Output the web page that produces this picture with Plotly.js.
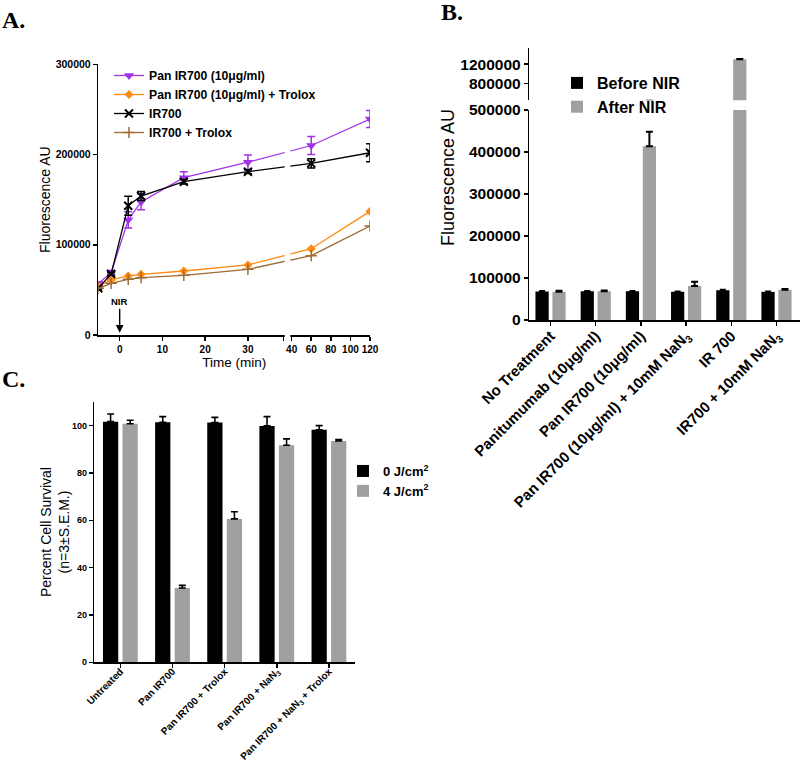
<!DOCTYPE html>
<html><head><meta charset="utf-8">
<script src="https://cdn.plot.ly/plotly-3.0.1.min.js"></script>
<style>html,body{margin:0;padding:0;background:#fff}</style>
</head><body><div id="chart" style="width:800px;height:761px"></div>
<script>
// ---------- Panel A data ----------
const timeMin = [-5, -2, 2, 5, 15, 30, 60, 120];
const panIR700 = [57000, 69000, 127500, 147500, 174300, 191500, 210000, 239300];
const panIR700Err = [2000, 2500, 9000, 8700, 6600, 8000, 10000, 9400];
const panIR700Trolox = [54300, 61000, 65400, 67200, 70900, 77600, 95600, 137000];
const ir700 = [51700, 67600, 143300, 154000, 169900, 181000, 190200, 202000];
const ir700Err = [1500, 1500, 10500, 5000, 2500, 2000, 5000, 10000];
const ir700Trolox = [51700, 57300, 61700, 63500, 66100, 72800, 87900, 120800];
const timeTicks = [0, 10, 20, 30, 40, 60, 80, 100, 120];
const aYTicks = [0, 100000, 200000, 300000];

// ---------- Panel B data ----------
const bCategories = ['No Treatment', 'Panitumumab (10μg/ml)', 'Pan IR700 (10μg/ml)',
  'Pan IR700 (10μg/ml) + 10mM NaN<sub>3</sub>', 'IR 700', 'IR700 + 10mM NaN<sub>3</sub>'];
const beforeNIR = [68000, 68500, 68500, 67000, 71000, 67000];
const beforeNIRErr = [800, 800, 800, 800, 1000, 800];
const afterNIR = [67500, 68500, 413500, 81000, 1300000, 72000];
const afterNIRErr = [2000, 2000, 35000, 10000, 8000, 2000];
const bLowerTicks = [0, 100000, 200000, 300000, 400000, 500000];
const bUpperTicks = [800000, 1200000];

// ---------- Panel C data ----------
const cCategories = ['Untreated', 'Pan IR700', 'Pan IR700 + Trolox',
  'Pan IR700 + NaN<sub>3</sub>', 'Pan IR700 + NaN<sub>3</sub> + Trolox'];
const dose0 = [101.7, 101.4, 101.3, 99.9, 98.3];
const dose0Err = [3.2, 2.4, 2.2, 3.9, 1.7];
const dose4 = [100.8, 31.4, 60.6, 91.7, 93.5];
const dose4Err = [1.5, 1.1, 3.0, 2.7, 0.6];
const cYTicks = [0, 20, 40, 60, 80, 100];

// ---------- helpers ----------
const W = 800, H = 761;
const px = v => v / W;            // pixel -> paper x
const py = v => 1 - v / H;        // pixel -> paper y
const FONT = "Arial, 'Liberation Sans', sans-serif";

// broken time axis: first segment in minutes, second compressed
const BREAK_LO = 38.3, BREAK_HI = 40, BREAK_GAP = 1.926, SEG2_SCALE = 0.2291;
const tAxis = t => (t <= BREAK_LO ? t : BREAK_LO + BREAK_GAP + (t - BREAK_HI) * SEG2_SCALE);
const aRange = [-5, tAxis(120)];
const aDom = [px(98.3), px(370)];
const uToPaper = u => aDom[0] + (u - aRange[0]) / (aRange[1] - aRange[0]) * (aDom[1] - aDom[0]);

const tu = timeMin.map(tAxis);
const PURPLE = '#A232E6', ORANGE = '#FF8A10', BROWN = '#9E6B34', GRAY = '#A0A0A2';

const traces = [
  {x: tu, y: panIR700, name: 'Pan IR700 (10μg/ml)', mode: 'lines+markers', xaxis: 'x', yaxis: 'y',
   line: {color: PURPLE, width: 1.3}, marker: {symbol: 'triangle-down', size: 9, color: PURPLE},
   error_y: {type: 'data', array: panIR700Err, color: PURPLE, thickness: 1.5, width: 4}, legend: 'legend'},
  {x: tu, y: panIR700Trolox, name: 'Pan IR700 (10μg/ml) + Trolox', mode: 'lines+markers', xaxis: 'x', yaxis: 'y',
   line: {color: ORANGE, width: 1.3}, marker: {symbol: 'diamond', size: 7, color: ORANGE}, legend: 'legend'},
  {x: tu, y: ir700, name: 'IR700', mode: 'lines+markers', xaxis: 'x', yaxis: 'y',
   line: {color: '#000', width: 1.3}, marker: {symbol: 'x-thin-open', size: 8, color: '#000', line: {width: 2, color: '#000'}},
   error_y: {type: 'data', array: ir700Err, color: '#000', thickness: 1.5, width: 4}, legend: 'legend'},
  {x: tu, y: ir700Trolox, name: 'IR700 + Trolox', mode: 'lines+markers', xaxis: 'x', yaxis: 'y',
   line: {color: BROWN, width: 1.3}, marker: {symbol: 'cross-thin-open', size: 8, color: BROWN, line: {width: 1.5, color: BROWN}}, legend: 'legend'}
];

// Panel B: lower and upper segments of a broken y axis
['y3', 'y4'].forEach((ya, i) => {
  traces.push({type: 'bar', x: bCategories, y: beforeNIR, name: 'Before NIR', xaxis: 'x3', yaxis: ya,
    marker: {color: '#000'}, showlegend: i === 0, legend: 'legend2',
    error_y: {type: 'data', symmetric: false, array: beforeNIRErr, arrayminus: beforeNIR.map(() => 0), color: '#000', thickness: 2, width: 3}});
  traces.push({type: 'bar', x: bCategories, y: afterNIR, name: 'After NIR', xaxis: 'x3', yaxis: ya,
    marker: {color: GRAY}, showlegend: i === 0, legend: 'legend2',
    error_y: {type: 'data', symmetric: false, array: afterNIRErr, arrayminus: afterNIR.map(() => 0), color: '#000', thickness: 2, width: 3.5}});
});

// Panel C
traces.push({type: 'bar', x: cCategories, y: dose0, name: '0 J/cm<sup>2</sup>', xaxis: 'x5', yaxis: 'y5',
  marker: {color: '#000'}, legend: 'legend3',
  error_y: {type: 'data', symmetric: false, array: dose0Err, arrayminus: dose0.map(() => 0), color: '#000', thickness: 1.6, width: 3.5}});
traces.push({type: 'bar', x: cCategories, y: dose4, name: '4 J/cm<sup>2</sup>', xaxis: 'x5', yaxis: 'y5',
  marker: {color: GRAY}, legend: 'legend3',
  error_y: {type: 'data', symmetric: false, array: dose4Err, arrayminus: dose4.map(() => 0), color: '#000', thickness: 1.6, width: 3.5}});

const axBase = {showline: true, linecolor: '#000', linewidth: 1.5, ticks: 'outside', ticklen: 4,
  tickwidth: 1.5, tickcolor: '#000', showgrid: false, zeroline: false, fixedrange: true};
const tf = s => ({family: FONT, size: s, color: '#000', weight: 'bold'});

const layout = {
  width: W, height: H, margin: {l: 0, r: 0, t: 0, b: 0},
  paper_bgcolor: '#fff', plot_bgcolor: 'rgba(0,0,0,0)',
  font: {family: FONT, color: '#000'},
  barmode: 'group', bargap: 0.25, bargroupgap: 0.22,
  xaxis: Object.assign({}, axBase, {domain: aDom, range: aRange, anchor: 'y',
    tickmode: 'array', tickvals: timeTicks.map(tAxis).concat([BREAK_LO]),
    ticktext: timeTicks.map(String).concat(['']), tickfont: tf(10),
    title: {text: 'Time (min)', font: {family: FONT, size: 13.5}, standoff: 4}}),
  yaxis: Object.assign({}, axBase, {domain: [py(335), py(64.3)], range: [0, 300000], anchor: 'x',
    tickmode: 'array', tickvals: aYTicks, ticktext: aYTicks.map(String), tickfont: tf(10.5),
    title: {text: 'Fluorescence AU', font: {family: FONT, size: 14}, standoff: 1}}),
  xaxis3: Object.assign({}, axBase, {domain: [px(529.3), 1], range: [-0.47, 5.52], anchor: 'y3',
    type: 'category', tickangle: -45, tickfont: tf(15), ticklabelstandoff: -4}),
  yaxis3: Object.assign({}, axBase, {domain: [py(320), py(110)], range: [0, 500000], anchor: 'x3',
    tickmode: 'array', tickvals: bLowerTicks, ticktext: bLowerTicks.map(String), tickfont: tf(15.5)}),
  yaxis4: Object.assign({}, axBase, {domain: [py(100.3), py(48.3)], range: [460000, 1525000], anchor: 'x3',
    tickmode: 'array', tickvals: bUpperTicks, ticktext: bUpperTicks.map(String), tickfont: tf(15.5)}),
  xaxis5: Object.assign({}, axBase, {domain: [px(94.3), px(355)], range: [-0.5, 4.5], anchor: 'y5',
    type: 'category', tickangle: -45, tickfont: tf(10), ticklabelstandoff: -6}),
  yaxis5: Object.assign({}, axBase, {domain: [py(662.3), py(402)], range: [0, 110], anchor: 'x5',
    tickmode: 'array', tickvals: cYTicks, ticktext: cYTicks.map(String), tickfont: tf(9)}),
  legend: {x: px(109), y: py(61), xanchor: 'left', yanchor: 'top', bgcolor: 'rgba(0,0,0,0)',
    font: tf(12.2), tracegroupgap: 0},
  legend2: {x: px(557), y: py(66), xanchor: 'left', yanchor: 'top', bgcolor: 'rgba(0,0,0,0)',
    font: tf(16), tracegroupgap: 0},
  legend3: {x: px(343), y: py(456), xanchor: 'left', yanchor: 'top', bgcolor: 'rgba(0,0,0,0)',
    font: tf(13), tracegroupgap: 0},
  shapes: [
    // white gap for the broken time axis
    {type: 'rect', xref: 'paper', yref: 'paper', layer: 'above',
     x0: uToPaper(BREAK_LO) + px(1.3), x1: uToPaper(tAxis(BREAK_HI)) - px(1.3),
     y0: py(337.8), y1: py(137), fillcolor: '#fff', line: {width: 0}}
  ],
  annotations: [
    {text: '<b>A.</b>', xref: 'paper', yref: 'paper', x: 0, y: py(19.5), xanchor: 'left', yanchor: 'middle',
     showarrow: false, font: {family: "'Liberation Serif', serif", size: 24}},
    {text: '<b>B.</b>', xref: 'paper', yref: 'paper', x: px(439), y: py(12.5), xanchor: 'left', yanchor: 'middle',
     showarrow: false, font: {family: "'Liberation Serif', serif", size: 24}},
    {text: '<b>C.</b>', xref: 'paper', yref: 'paper', x: 0, y: py(379), xanchor: 'left', yanchor: 'middle',
     showarrow: false, font: {family: "'Liberation Serif', serif", size: 24}},
    {text: '<b>NIR</b>', xref: 'x', yref: 'y', x: tAxis(0), y: 2500, ax: 0, ay: -31,
     showarrow: true, arrowhead: 2, arrowsize: 1.1, arrowwidth: 1.4, arrowcolor: '#000',
     font: {family: FONT, size: 9.5, color: '#000'}},
    {text: 'Fluorescence AU', xref: 'paper', yref: 'paper', x: px(448), y: py(178), textangle: -90,
     xanchor: 'center', yanchor: 'middle', showarrow: false, font: {family: FONT, size: 18, color: '#000'}},
    {text: 'Percent Cell Survival<br>(n=3±S.E.M.)', xref: 'paper', yref: 'paper', x: px(55), y: py(532), textangle: -90,
     xanchor: 'center', yanchor: 'middle', showarrow: false, font: {family: FONT, size: 14, color: '#000'}}
  ]
};

Plotly.newPlot('chart', traces, layout, {staticPlot: true, displayModeBar: false});
</script>
</body></html>
